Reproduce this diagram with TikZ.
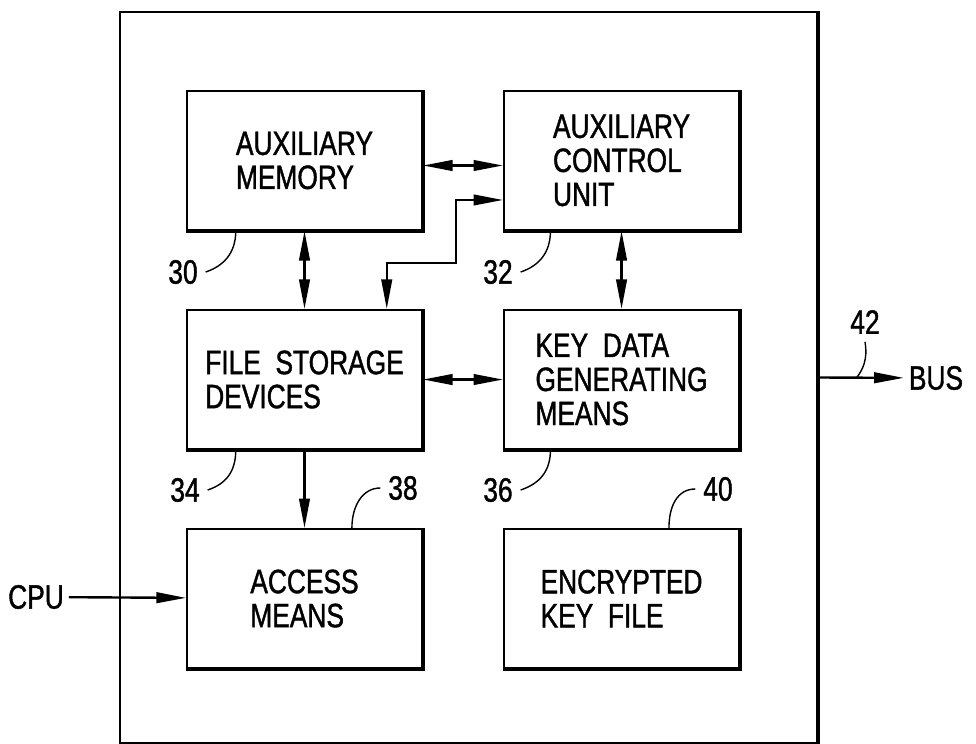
\documentclass[tikz,border=0pt]{standalone}
\usepackage{fontspec}
\setmainfont{Liberation Sans}[FakeStretch=0.78, FakeBold=1.2]
\usetikzlibrary{arrows.meta, positioning, calc}
\tikzset{
    patent/.style={x=0.025cm, y=-0.025cm, line width=1.4pt,
        font=\fontsize{24}{24.2}\selectfont, node distance=1.95cm and 2cm},
    block/.style={draw, minimum width=5.875cm, minimum height=3.475cm, align=left, inner sep=0pt},
    frame/.style={draw, minimum width=17.425cm, minimum height=18.275cm},
    heavy/.style={line width=2.8pt},
    conn/.style={line width=1.7pt, >={Triangle[length=21pt, width=7.5pt]}},
    refnum/.style={inner sep=5pt},
    term/.style={inner sep=3pt},
    % reference numeral leaders
    leader/.style={line width=1pt},
}

\begin{document}
\begin{tikzpicture}[patent]
    \useasboundingbox (0,0) rectangle (976,744);

    \node[frame]                (unit) at (468.5,377.5) {};
    \node[block]                (amem) at (304.5,160.5) {AUXILIARY\\MEMORY};
    \node[block, right=of amem] (acu)  {AUXILIARY\\CONTROL\\UNIT};
    \node[block, below=of amem] (fsd)  {FILE\ \ STORAGE\\DEVICES};
    \node[block, right=of fsd]  (kdg)  {KEY\ \ DATA\\GENERATING\\MEANS};
    \node[block, below=of fsd]  (acc)  {ACCESS\\MEANS};
    \node[block, right=of acc]  (ekf)  {ENCRYPTED\\KEY\ \ FILE};

    % heavy right and bottom edges
    \foreach \b in {unit, amem, acu, fsd, kdg, acc, ekf}
        \draw[heavy] (\b.north east) -- (\b.south east) -- (\b.south west);

    \node[term] (cpu) at (36,597) {CPU};
    \node[term] (bus) at (936,378) {BUS};

    \node[refnum] (n30) at (183,272) {30};
    \node[refnum] (n32) at (498,272) {32};
    \node[refnum] (n34) at (185,490) {34};
    \node[refnum] (n36) at (498,490) {36};
    \node[refnum] (n38) at (403,488) {38};
    \node[refnum] (n40) at (718,489) {40};
    \node[refnum] (n42) at (865,322) {42};

    \coordinate (ctlin) at ($(acu.north west)!0.78!(acu.south west)$);
    \coordinate (fsdin) at ($(fsd.north west)!0.847!(fsd.north east)$);

    \draw[conn, <->] ($(amem.east)+(0,5)$) -- ($(acu.west)+(0,5)$);
    \draw[conn, <->] (amem) -- (fsd);
    \draw[conn, <->] (acu) -- (kdg);
    \draw[conn, <->] (fsd) -- (kdg);
    \draw[conn, <->] (fsdin) |- ($(ctlin)+(-47,63)$) |- (ctlin);
    \draw[conn, ->] (fsd) -- (acc);
    \draw[conn, ->] (cpu) -- (acc);
    \draw[conn, ->] (unit.east) -- (bus);

    \draw[leader] (n30.east) .. controls +(18,-6) and +(0,22) .. ($(amem.south west)!0.21!(amem.south east)$);
    \draw[leader] (n32.east) .. controls +(18,-6) and +(0,22) .. ($(acu.south west)!0.2!(acu.south east)$);
    \draw[leader] (n34.east) .. controls +(18,-6) and +(0,22) .. ($(fsd.south west)!0.21!(fsd.south east)$);
    \draw[leader] (n36.east) .. controls +(18,-6) and +(0,22) .. ($(kdg.south west)!0.2!(kdg.south east)$);
    \draw[leader] (n38.west) .. controls +(-18,0) and +(0,-22) .. ($(acc.north west)!0.7!(acc.north east)$);
    \draw[leader] (n40.west) .. controls +(-18,0) and +(0,-22) .. ($(ekf.north west)!0.7!(ekf.north east)$);
    \draw[leader] (n42.south) .. controls +(3,18) and +(6,-8) .. ($(unit.east)!0.45!(bus.west)$);
\end{tikzpicture}
\end{document}
